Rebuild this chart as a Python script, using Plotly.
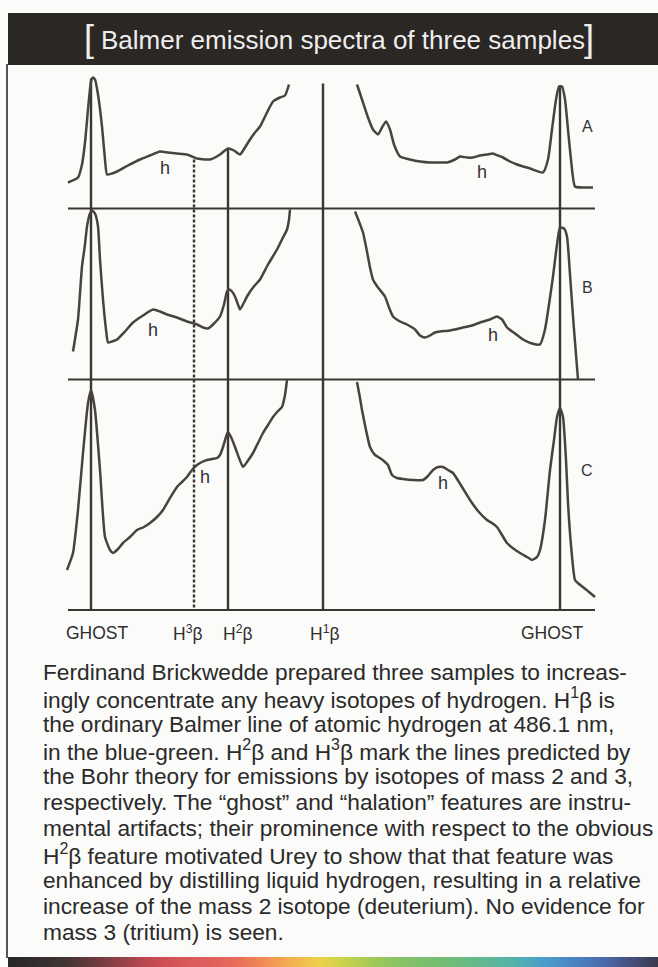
import plotly.graph_objects as go

# ---------------- data ----------------
# x: plate position relative to the H1-beta line (arbitrary units)
# y: relative intensity above each sample's own baseline (arbitrary units)

A_left_x = [-255, -245, -241, -238, -235, -232, -230, -228, -225, -221, -218, -216, -211, -206, -195, -183,
            -173, -163, -155, -146, -136, -126, -118, -113, -108, -103, -95, -89, -83, -78, -73, -68, -63,
            -56, -50, -43, -38, -34]
A_left_y = [0.26, 0.31, 0.44, 0.66, 0.99, 1.27, 1.31, 1.29, 1.14, 0.82, 0.49, 0.34, 0.35, 0.37, 0.43, 0.49,
            0.53, 0.57, 0.56, 0.55, 0.54, 0.50, 0.49, 0.49, 0.51, 0.54, 0.60, 0.58, 0.54, 0.61, 0.69, 0.76, 0.82,
            0.96, 1.07, 1.11, 1.13, 1.24]
A_right_x = [34, 39, 45, 50, 55, 59, 63, 67, 71, 77, 87, 97, 107, 117, 124, 132, 137, 144, 150, 157, 164, 170,
             175, 180, 187, 194, 207, 220, 225, 229, 233, 236, 239, 242, 245, 248, 252, 260, 270]
A_right_y = [1.24, 1.09, 0.91, 0.79, 0.74, 0.81, 0.87, 0.79, 0.64, 0.52, 0.49, 0.47, 0.46, 0.46, 0.46, 0.49,
             0.52, 0.51, 0.51, 0.53, 0.54, 0.55, 0.53, 0.51, 0.47, 0.44, 0.40, 0.36, 0.49, 0.79, 1.09, 1.22,
             1.22, 1.09, 0.79, 0.49, 0.22, 0.21, 0.21]

B_left_x = [-250, -245, -241, -238, -236, -233, -231, -228, -225, -223, -220, -217, -215, -211, -206, -198,
            -190, -180, -170, -163, -156, -146, -136, -126, -120, -115, -109, -103, -99, -96, -94, -91, -88,
            -85, -83, -79, -76, -70, -63, -55, -46, -41, -36, -34, -33]
B_left_y = [0.28, 0.60, 1.13, 1.35, 1.53, 1.66, 1.69, 1.66, 1.53, 1.20, 0.80, 0.50, 0.37, 0.38, 0.40, 0.48,
            0.57, 0.64, 0.70, 0.68, 0.65, 0.62, 0.58, 0.55, 0.52, 0.51, 0.56, 0.63, 0.75, 0.88, 0.90, 0.88,
            0.83, 0.75, 0.70, 0.77, 0.83, 0.92, 1.00, 1.15, 1.30, 1.40, 1.50, 1.60, 1.70]
B_right_x = [32, 36, 40, 44, 47, 50, 55, 62, 66, 70, 77, 84, 92, 97, 102, 107, 112, 117, 127, 140, 149, 157,
             167, 174, 179, 184, 192, 200, 209, 217, 222, 226, 230, 234, 237, 241, 244, 247, 250, 253, 255]
B_right_y = [1.68, 1.58, 1.47, 1.28, 1.12, 1.00, 0.92, 0.83, 0.72, 0.63, 0.58, 0.55, 0.50, 0.44, 0.42, 0.44,
             0.47, 0.48, 0.49, 0.52, 0.54, 0.57, 0.60, 0.63, 0.60, 0.52, 0.46, 0.40, 0.36, 0.35, 0.50, 0.75,
             1.03, 1.35, 1.52, 1.51, 1.43, 1.05, 0.63, 0.25, 0.0]

C_left_x = [-256, -250, -245, -240, -235, -232, -228, -223, -218, -213, -210, -205, -200, -193, -186, -179,
            -173, -166, -160, -153, -146, -140, -136, -131, -126, -121, -116, -111, -106, -103, -100, -97,
            -95, -92, -88, -84, -80, -76, -70, -65, -60, -55, -50, -45, -41, -38, -36]
C_left_y = [0.40, 0.57, 1.00, 1.57, 2.07, 2.20, 2.00, 1.40, 0.73, 0.60, 0.57, 0.61, 0.67, 0.73, 0.80, 0.83,
            0.87, 0.93, 1.00, 1.12, 1.23, 1.29, 1.33, 1.40, 1.45, 1.48, 1.50, 1.51, 1.52, 1.55, 1.63, 1.73,
            1.78, 1.73, 1.63, 1.52, 1.43, 1.48, 1.57, 1.67, 1.77, 1.85, 1.93, 1.99, 2.03, 2.15, 2.30]
C_right_x = [34, 37, 39, 43, 47, 52, 57, 62, 65, 69, 74, 80, 90, 100, 105, 110, 115, 120, 125, 130, 139, 147,
             155, 164, 169, 174, 179, 184, 191, 197, 204, 209, 214, 217, 222, 227, 231, 234, 237, 240, 243,
             245, 248, 252, 256, 260, 266, 272]
C_right_y = [2.28, 2.12, 2.00, 1.80, 1.63, 1.55, 1.52, 1.48, 1.45, 1.35, 1.32, 1.31, 1.30, 1.30, 1.34, 1.40,
             1.43, 1.43, 1.40, 1.37, 1.23, 1.10, 0.99, 0.90, 0.87, 0.83, 0.75, 0.67, 0.61, 0.57, 0.53, 0.50,
             0.53, 0.60, 0.90, 1.40, 1.70, 1.93, 2.02, 1.93, 1.50, 1.07, 0.65, 0.30, 0.26, 0.23, 0.18, 0.13]

samples = ["A", "B", "C"]
spectra = {
    "A": [(A_left_x, A_left_y), (A_right_x, A_right_y)],
    "B": [(B_left_x, B_left_y), (B_right_x, B_right_y)],
    "C": [(C_left_x, C_left_y), (C_right_x, C_right_y)],
}

# marker lines: name, position, intensity in sample A where the line starts
line_labels = ["GHOST", "H<sup>3</sup>β", "H<sup>2</sup>β", "H<sup>1</sup>β", "GHOST"]
line_x = [-232, -129, -95, 0, 237]
line_top = [1.30, 0.49, 0.60, 1.25, 1.23]
line_dashed = [False, True, False, False, False]

# halation ("h") features: sample, position, intensity
h_sample = ["A", "A", "B", "B", "C", "C"]
h_x = [-158, 159, -170, 170, -118, 120]
h_y = [0.41, 0.37, 0.50, 0.45, 1.33, 1.27]

plate_extent = [-255, 272]

caption_lines = [
    "Ferdinand Brickwedde prepared three samples to increas-",
    "ingly concentrate any heavy isotopes of hydrogen. H<sup>1</sup>β is",
    "the ordinary Balmer line of atomic hydrogen at 486.1 nm,",
    "in the blue-green. H<sup>2</sup>β and H<sup>3</sup>β mark the lines predicted by",
    "the Bohr theory for emissions by isotopes of mass 2 and 3,",
    "respectively. The \u201cghost\u201d and \u201chalation\u201d features are instru-",
    "mental artifacts; their prominence with respect to the obvious",
    "H<sup>2</sup>β feature motivated Urey to show that that feature was",
    "enhanced by distilling liquid hydrogen, resulting in a relative",
    "increase of the mass 2 isotope (deuterium). No evidence for",
    "mass 3 (tritium) is seen.",
]

strip_colors = ["#2a2626", "#332d2d", "#3f3434", "#6a3a3b", "#94414a", "#c2494f", "#d65558", "#df5e5d",
                "#e86a5a", "#f08a55", "#f4b050", "#ecd24a", "#c6d24e", "#9cc85a", "#84c268", "#78be70",
                "#6cbb7c", "#5fb795", "#52b0b0", "#4a9ccb", "#4a84c4", "#4b6cae", "#464f7e", "#3a3848"]

# ---------------- layout constants ----------------
W, H = 658, 967
offset = {"A": 4.015, "B": 2.305, "C": 0.0}   # vertical stacking of the three samples
X_RANGE = [-323, 335]
Y_RANGE = [-3.57, 6.10]
INK = "#3b3633"
CURVE = "#48433f"
FONT = "Liberation Sans, Arial, sans-serif"

def py(px):  # paper fraction from top-pixel
    return 1 - px / H

fig = go.Figure()

# baselines
for s in samples:
    fig.add_trace(go.Scatter(x=plate_extent, y=[offset[s], offset[s]], mode="lines",
                             line=dict(color=INK, width=2.2), hoverinfo="skip"))

# marker lines
for lx, top, dashed in zip(line_x, line_top, line_dashed):
    fig.add_trace(go.Scatter(x=[lx, lx], y=[top + offset["A"], offset["C"]], mode="lines",
                             line=dict(color=INK, width=2.4, dash="3px,2px" if dashed else "solid"),
                             hoverinfo="skip"))

# spectra
for s in samples:
    for xs, ys in spectra[s]:
        fig.add_trace(go.Scatter(x=xs, y=[v + offset[s] for v in ys], mode="lines",
                                 line=dict(color=CURVE, width=2.5, shape="spline", smoothing=0.5),
                                 hoverinfo="skip"))

annotations = []
# sample labels
for s, yy in zip(samples, [0.82, 0.92, 1.40]):
    annotations.append(dict(x=264, y=offset[s] + yy, xref="x", yref="y", text=s, showarrow=False,
                            xanchor="center", yanchor="middle",
                            font=dict(family=FONT, size=16, color="#333")))
# h labels
for s, xx, yy in zip(h_sample, h_x, h_y):
    annotations.append(dict(x=xx, y=offset[s] + yy, xref="x", yref="y", text="h", showarrow=False,
                            xanchor="center", yanchor="middle",
                            font=dict(family=FONT, size=18, color="#333")))
# line labels
label_shift = [6, -6, 10, 2, -8]
for lab, lx, sh in zip(line_labels, line_x, label_shift):
    annotations.append(dict(x=lx, y=-0.23, xref="x", yref="y", text=lab, showarrow=False, xshift=sh,
                            xanchor="center", yanchor="middle",
                            font=dict(family=FONT, size=17.5, color="#2e2e2e")))

# title
annotations.append(dict(x=343 / W, y=py(40), xref="paper", yref="paper",
                        text="Balmer emission spectra of three samples", showarrow=False,
                        xanchor="center", yanchor="middle",
                        font=dict(family=FONT, size=26, color="#eeeeee")))
annotations.append(dict(x=89 / W, y=py(38), xref="paper", yref="paper", text="[", showarrow=False,
                        xanchor="center", yanchor="middle",
                        font=dict(family=FONT, size=36, color="#eeeeee")))
annotations.append(dict(x=589 / W, y=py(38), xref="paper", yref="paper", text="]", showarrow=False,
                        xanchor="center", yanchor="middle",
                        font=dict(family=FONT, size=36, color="#eeeeee")))

# caption
for i, line in enumerate(caption_lines):
    annotations.append(dict(x=41 / W, y=py(672 + 26 * i), xref="paper", yref="paper", text=line,
                            xanchor="left", yanchor="middle", showarrow=False,
                            font=dict(family=FONT, size=22.7, color="#2a2a2a")))

# spectrum strip at the bottom
fig.add_trace(go.Heatmap(z=[list(range(len(strip_colors)))] * 2, xaxis="x2", yaxis="y2",
                         colorscale=[[i / (len(strip_colors) - 1), c] for i, c in enumerate(strip_colors)],
                         showscale=False, zsmooth="best", hoverinfo="skip"))

shapes = [
    dict(type="rect", xref="paper", yref="paper", x0=8 / W, x1=1, y0=py(65), y1=py(13),
         fillcolor="#2b2725", line=dict(width=0), layer="below"),
    dict(type="line", xref="paper", yref="paper", x0=7 / W, x1=7 / W, y0=py(64), y1=py(958),
         line=dict(color="#555", width=2)),
]

fig.update_layout(
    width=W, height=H, margin=dict(l=0, r=0, t=0, b=0, pad=0),
    paper_bgcolor="#fbfbf9", plot_bgcolor="rgba(0,0,0,0)", showlegend=False,
    xaxis=dict(range=X_RANGE, visible=False, domain=[0, 1], fixedrange=True),
    yaxis=dict(range=Y_RANGE, visible=False, domain=[0, 1], fixedrange=True),
    xaxis2=dict(domain=[8 / W, 1], visible=False, anchor="y2", range=[0, len(strip_colors) - 1]),
    yaxis2=dict(domain=[0, 10 / H], visible=False, anchor="x2", range=[0, 1]),
    annotations=annotations, shapes=shapes,
)

fig.write_html("out.html")
